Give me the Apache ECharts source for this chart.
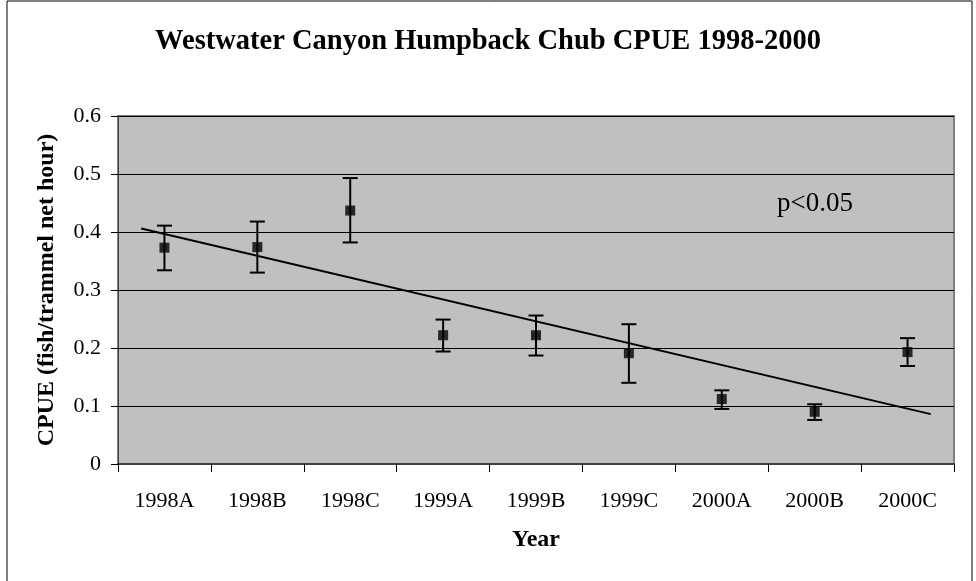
<!DOCTYPE html>
<html>
<head>
<meta charset="utf-8">
<title>Westwater Canyon Humpback Chub CPUE</title>
<script src="https://cdn.jsdelivr.net/npm/echarts@6/dist/echarts.min.js"></script>
<style>
    html, body { margin: 0; padding: 0; background: #fff; }
    #chart { width: 976px; height: 581px; }
</style>
</head>
<body>
<div id="chart"></div>
<script>
    let categories = ['1998A', '1998B', '1998C', '1999A', '1999B', '1999C', '2000A', '2000B', '2000C'];
    let cpue = [0.373, 0.374, 0.437, 0.222, 0.222, 0.191, 0.112, 0.090, 0.193];
    let errLow = [0.334, 0.330, 0.382, 0.194, 0.187, 0.140, 0.095, 0.076, 0.169];
    let errHigh = [0.411, 0.418, 0.493, 0.249, 0.256, 0.241, 0.127, 0.103, 0.217];
    // trend line: [category position, value]
    let trendStart = [-0.25, 0.406];
    let trendEnd = [8.25, 0.086];
    let yTicks = [0, 0.1, 0.2, 0.3, 0.4, 0.5, 0.6];

    let serif = '"Liberation Serif", "Times New Roman", serif';

    let errData = categories.map((c, i) => [i, errLow[i], errHigh[i]]);

    let option = {
        animation: false,
        backgroundColor: '#fff',
        title: {
            text: 'Westwater Canyon Humpback Chub CPUE 1998-2000',
            left: 'center',
            top: 22,
            textStyle: {
                fontFamily: serif,
                fontWeight: 'bold',
                fontSize: 28.5,
                color: '#000'
            }
        },
        grid: {
            left: 118,
            top: 116,
            right: 22,
            bottom: 117,
            show: true,
            backgroundColor: '#c0c0c0',
            borderColor: '#808080',
            borderWidth: 2
        },
        xAxis: [
            {
                type: 'category',
                data: categories,
                boundaryGap: true,
                name: 'Year',
                nameLocation: 'middle',
                nameGap: 64,
                nameTextStyle: {
                    fontFamily: serif,
                    fontWeight: 'bold',
                    fontSize: 24,
                    color: '#000'
                },
                axisLine: { lineStyle: { color: '#404040', width: 2 } },
                axisTick: { show: true, interval: 0, length: 8, lineStyle: { color: '#000' } },
                axisLabel: {
                    interval: 0,
                    margin: 26,
                    fontFamily: serif,
                    fontSize: 22,
                    color: '#000'
                },
                splitLine: { show: false }
            },
            {
                type: 'value',
                min: -0.5,
                max: 8.5,
                show: false
            }
        ],
        yAxis: {
            type: 'value',
            min: yTicks[0],
            max: yTicks[yTicks.length - 1],
            interval: 0.1,
            name: 'CPUE (fish/trammel net hour)',
            nameLocation: 'middle',
            nameGap: 59,
            nameTextStyle: {
                fontFamily: serif,
                fontWeight: 'bold',
                fontSize: 24,
                color: '#000'
            },
            axisLine: { show: true, onZero: false, lineStyle: { color: '#404040', width: 1 } },
            axisTick: { show: true, length: 7, lineStyle: { color: '#000' } },
            axisLabel: {
                margin: 17,
                fontFamily: serif,
                fontSize: 22,
                color: '#000',
                formatter: v => (v === 0 ? '0' : v.toFixed(1))
            },
            splitLine: { show: true, lineStyle: { color: '#000', width: 1 } }
        },
        graphic: [
            {
                type: 'rect',
                shape: { x: 7, y: 1, width: 965, height: 600 },
                style: { fill: 'none', stroke: '#000', lineWidth: 1 },
                silent: true
            },
            {
                type: 'text',
                left: 777,
                top: 190,
                style: {
                    text: 'p<0.05',
                    font: '27px ' + serif,
                    fill: '#000'
                }
            }
        ],
        series: [
            {
                name: 'trend',
                type: 'line',
                xAxisIndex: 1,
                data: [trendStart, trendEnd],
                symbol: 'none',
                lineStyle: { color: '#000', width: 2 },
                z: 3
            },
            {
                name: 'error',
                type: 'custom',
                data: errData,
                z: 4,
                renderItem: function (params, api) {
                    let i = api.value(0);
                    let lo = api.coord([i, api.value(1)]);
                    let hi = api.coord([i, api.value(2)]);
                    let half = 7.5;
                    let st = { stroke: '#000', lineWidth: 2 };
                    return {
                        type: 'group',
                        children: [
                            { type: 'line', shape: { x1: lo[0], y1: lo[1], x2: hi[0], y2: hi[1] }, style: st },
                            { type: 'line', shape: { x1: lo[0] - half, y1: lo[1], x2: lo[0] + half, y2: lo[1] }, style: st },
                            { type: 'line', shape: { x1: hi[0] - half, y1: hi[1], x2: hi[0] + half, y2: hi[1] }, style: st }
                        ]
                    };
                }
            },
            {
                name: 'CPUE',
                type: 'scatter',
                data: cpue,
                symbol: 'rect',
                symbolSize: 10,
                itemStyle: { color: '#000' },
                z: 5
            }
        ]
    };

    let chart = echarts.init(document.getElementById('chart'), null, { renderer: 'canvas' });
    chart.setOption(option);
</script>
</body>
</html>
